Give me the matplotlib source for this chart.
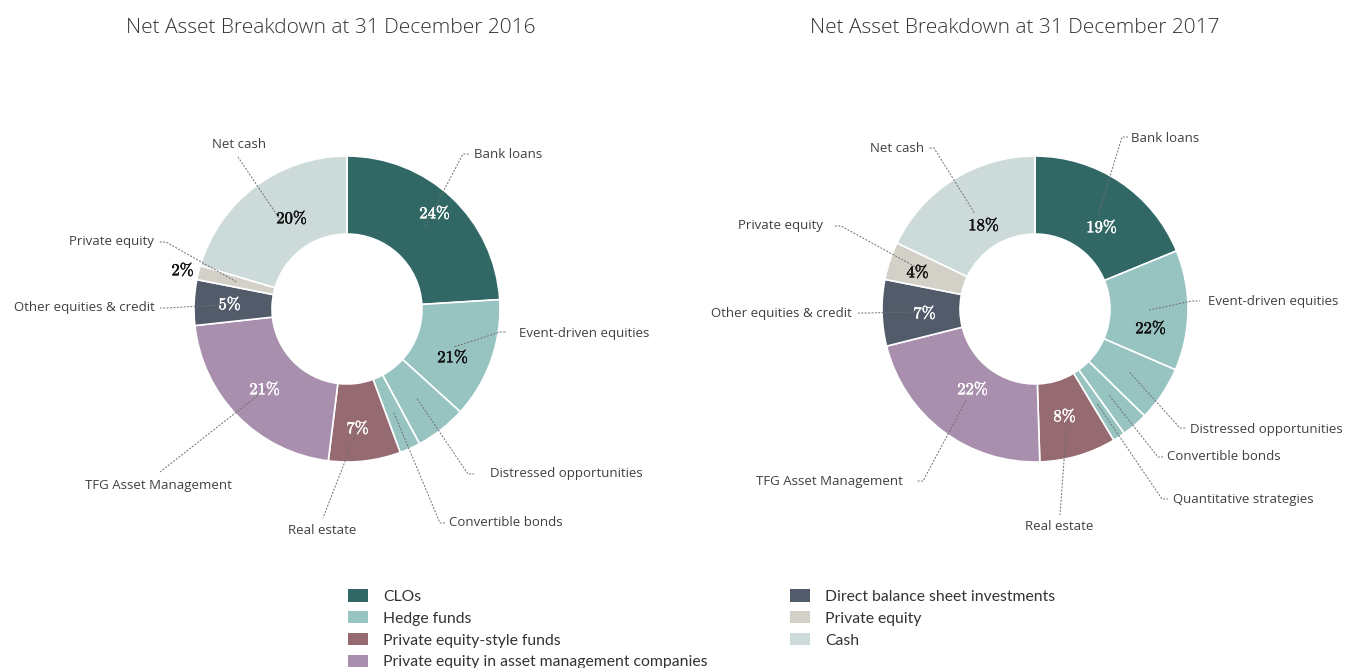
import numpy as np
import matplotlib
matplotlib.use("Agg")
import matplotlib.pyplot as plt
import matplotlib.patheffects as pe
from matplotlib.patches import Patch

plt.rcParams['font.family'] = ['Open Sans', 'DejaVu Sans']
plt.rcParams['mathtext.fontset'] = 'cm'

# ---- data -------------------------------------------------------------------
group_names = ["CLOs", "Hedge funds", "Private equity-style funds",
               "Private equity in asset management companies",
               "Direct balance sheet investments", "Private equity", "Cash"]
group_colors = ["#316866", "#97c3c1", "#966a71", "#a98fae",
                "#525b6a", "#d3d0c7", "#ccdbda"]
dark_groups = [0, 2, 3, 4]

labels_2016 = ["Bank loans", "Event-driven equities", "Distressed opportunities",
               "Convertible bonds", "Real estate", "TFG Asset Management",
               "Other equities & credit", "Private equity", "Net cash"]
values_2016 = [24.0, 12.7, 5.4, 2.2, 7.6, 21.3, 4.8, 1.5, 20.4]
groups_2016 = [0, 1, 1, 1, 2, 3, 4, 5, 6]
pct_2016 = ["24%", "21%", "", "", "7%", "21%", "5%", "2%", "20%"]

labels_2017 = ["Bank loans", "Event-driven equities", "Distressed opportunities",
               "Convertible bonds", "Quantitative strategies", "Real estate",
               "TFG Asset Management", "Other equities & credit",
               "Private equity", "Net cash"]
values_2017 = [18.8, 12.7, 5.8, 2.8, 1.3, 8.1, 21.6, 7.0, 4.0, 17.9]
groups_2017 = [0, 1, 1, 1, 1, 2, 3, 4, 5, 6]
pct_2017 = ["19%", "22%", "", "", "", "8%", "22%", "7%", "4%", "18%"]

# ---- layout (figure pixels, y from top) --------------------------------------
W, H = 1347, 668
R = 153.0
HOLE = 0.49

# (text x, text y, ha, leader points from elbow to stub end)
layout_2016 = [
    (474, 154, 'left', [(463, 154), (470, 154)]),
    (519, 333, 'left', [(500, 332), (507, 332)]),
    (490, 474, 'left', [(468, 474), (474, 474)]),
    (449, 523, 'left', [(440, 523), (445, 523)]),
    (322, 531, 'center', [(323, 518)]),
    (158, 485, 'center', [(160, 472)]),
    (155, 308, 'right', [(166, 308), (160, 308)]),
    (154, 242, 'right', [(166, 242), (159, 242)]),
    (239, 145, 'center', [(238, 157)]),
]
pct_pos_2016 = [(435, 213), (453, 357), None, None, (358, 428), (265, 389),
                (230, 304), (183, 270), (292, 218)]

layout_2017 = [
    (1131, 138, 'left', [(1122, 137), (1128, 137)]),
    (1208, 302, 'left', [(1192, 301), (1200, 301)]),
    (1190, 429, 'left', [(1180, 428), (1186, 428)]),
    (1167, 457, 'left', [(1158, 457), (1163, 457)]),
    (1173, 500, 'left', [(1162, 499), (1168, 499)]),
    (1059, 526, 'center', [(1060, 515)]),
    (903, 482, 'right', [(923, 481), (917, 481)]),
    (852, 313, 'right', [(866, 313), (858, 313)]),
    (823, 226, 'right', [(841, 226), (834, 226)]),
    (924, 148, 'right', [(934, 148), (928, 148)]),
]
pct_pos_2017 = [(1102, 227), (1151, 328), None, None, None, (1065, 416),
                (973, 389), (925, 313), (918, 272), (984, 225)]

charts = [
    ("Net Asset Breakdown at 31 December 2016", (347, 309), 331,
     labels_2016, values_2016, groups_2016, pct_2016, layout_2016, pct_pos_2016),
    ("Net Asset Breakdown at 31 December 2017", (1035, 309), 1015,
     labels_2017, values_2017, groups_2017, pct_2017, layout_2017, pct_pos_2017),
]

fig = plt.figure(figsize=(W / 100, H / 100), dpi=100)
S = 400.0
lim = S / 2 / R

pie_axes = []
for title, (cx, cy), tx, labels, values, groups, pcts, lay, ppos in charts:
    ax = fig.add_axes([(cx - S / 2) / W, 1 - (cy + S / 2) / H, S / W, S / H])
    colors = [group_colors[g] for g in groups]
    wedges, _ = ax.pie(values, colors=colors, startangle=90, counterclock=False,
                       radius=1.0,
                       wedgeprops=dict(width=1 - HOLE, edgecolor='white', linewidth=1.2))
    ax.set_xlim(-lim, lim)
    ax.set_ylim(-lim, lim)
    ax.set_aspect('equal')
    ax.axis('off')
    pie_axes.append(wedges)

ov = fig.add_axes([0, 0, 1, 1], facecolor='none')
ov.set_xlim(0, W)
ov.set_ylim(H, 0)
ov.axis('off')

rmid = (1 + HOLE) / 2
for (title, (cx, cy), tx, labels, values, groups, pcts, lay, ppos), wedges in zip(charts, pie_axes):
    ov.text(tx, 28, title, ha='center', va='center', fontsize=15,
            fontweight='light', color='#333333')
    for i, w in enumerate(wedges):
        mid = np.deg2rad((w.theta1 + w.theta2) / 2)
        px = cx + R * rmid * np.cos(mid)
        py = cy - R * rmid * np.sin(mid)
        x, y, ha, pts = lay[i]
        xs = [px] + [p[0] for p in pts]
        ys = [py] + [p[1] for p in pts]
        ov.plot(xs, ys, color='#6f6f6f', lw=0.7, linestyle=(0, (2, 1.5)), zorder=3)
        ov.text(x, y, labels[i], ha=ha, va='center', fontsize=9.5,
                color='#404040', zorder=4)
        if pcts[i]:
            g = groups[i]
            col = 'white' if g in dark_groups else '#111111'
            lx, ly = ppos[i]
            ov.text(lx, ly, r'$\mathbf{' + pcts[i].replace('%', r'\%') + '}$',
                    ha='center', va='center', fontsize=12, color=col, zorder=5,
                    path_effects=[pe.withStroke(linewidth=0.35, foreground=col)])

# ---- legend -----------------------------------------------------------------
handles = [Patch(facecolor=c, edgecolor='none') for c in group_colors]
leg_kw = dict(frameon=False,
              prop=dict(family=['Lato', 'DejaVu Sans'], size=11.3),
              handlelength=1.25, handleheight=0.85,
              handletextpad=1.0, labelspacing=0.46, borderpad=0, borderaxespad=0,
              labelcolor='#333333', bbox_transform=ov.transData, loc='upper left')
leg1 = ov.legend(handles[:4], group_names[:4], bbox_to_anchor=(348, 589), **leg_kw)
ov.add_artist(leg1)
ov.legend(handles[4:], group_names[4:], bbox_to_anchor=(790, 589), **leg_kw)

fig.savefig("out.png", dpi=100)
